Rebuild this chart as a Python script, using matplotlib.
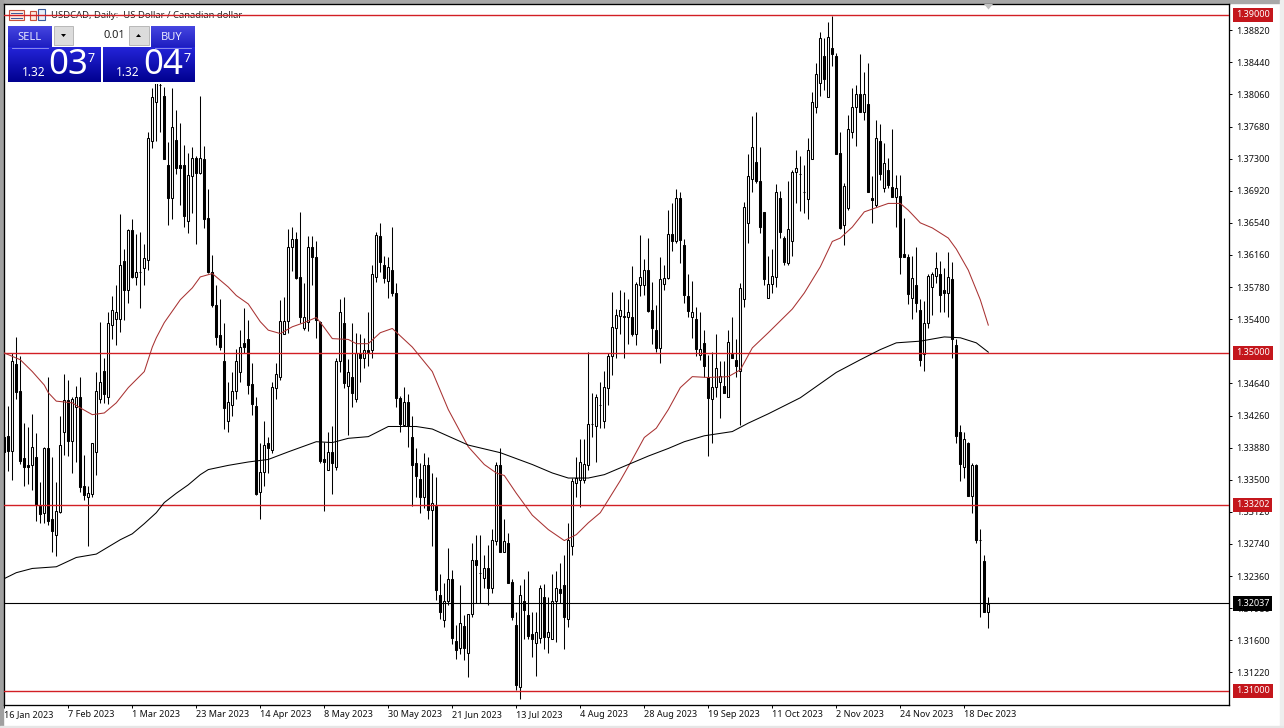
import matplotlib
matplotlib.use('Agg')
import matplotlib.pyplot as plt
from matplotlib.patches import Rectangle, Polygon
import numpy as np

plt.rcParams['font.family'] = ['Noto Sans', 'DejaVu Sans']

# Daily candles in 1/10000 of a price
opens = np.array([
    13401, 13402, 13384, 13487, 13455, 13376, 13368, 13367, 13377, 13319, 13311, 13387, 13304, 13285, 13312, 13407,
    13444, 13396, 13436, 13448, 13343, 13330, 13333, 13383, 13446, 13479, 13448, 13533, 13540, 13540, 13609, 13574,
    13646, 13590, 13596, 13600, 13610, 13751, 13797, 13817, 13804, 13723, 13684, 13752, 13722, 13722, 13656, 13710,
    13731, 13713, 13729, 13660, 13596, 13557, 13521, 13490, 13420, 13438, 13455, 13477, 13512, 13516, 13463, 13437,
    13335, 13359, 13393, 13385, 13459, 13471, 13523, 13538, 13625, 13635, 13590, 13529, 13537, 13625, 13614, 13537,
    13375, 13361, 13383, 13365, 13491, 13535, 13461, 13471, 13446, 13500, 13494, 13504, 13503, 13590, 13638, 13604,
    13585, 13598, 13571, 13447, 13415, 13442, 13401, 13370, 13351, 13329, 13367, 13314, 13319, 13213, 13184, 13207,
    13233, 13159, 13151, 13177, 13145, 13191, 13255, 13240, 13234, 13246, 13222, 13278, 13367, 13265, 13275, 13229,
    13178, 13105, 13206, 13190, 13167, 13157, 13163, 13211, 13164, 13162, 13206, 13221, 13226, 13185, 13272, 13346,
    13350, 13350, 13367, 13416, 13414, 13438, 13420, 13458, 13496, 13530, 13544, 13542, 13542, 13542, 13523, 13581,
    13580, 13598, 13551, 13527, 13506, 13582, 13589, 13641, 13633, 13684, 13628, 13568, 13543, 13540, 13498, 13512,
    13471, 13446, 13460, 13466, 13461, 13448, 13499, 13492, 13479, 13564, 13654, 13706, 13726, 13703, 13667, 13565,
    13582, 13590, 13684, 13636, 13606, 13632, 13714, 13712, 13691, 13682, 13730, 13791, 13820, 13852, 13803, 13861,
    13852, 13737, 13651, 13671, 13761, 13791, 13807, 13785, 13795, 13684, 13675, 13751, 13695, 13717, 13697, 13685,
    13686, 13617, 13614, 13565, 13580, 13551, 13499, 13535, 13578, 13591, 13593, 13574, 13571, 13588, 13510, 13406,
    13365, 13394, 13331, 13368, 13279, 13254, 13194]) / 10000
highs = np.array([
    13407, 13437, 13500, 13519, 13496, 13417, 13412, 13428, 13405, 13347, 13389, 13471, 13377, 13347, 13425, 13475,
    13468, 13448, 13461, 13472, 13379, 13342, 13393, 13478, 13537, 13494, 13549, 13568, 13581, 13665, 13623, 13647,
    13659, 13641, 13643, 13629, 13761, 13814, 13833, 13823, 13815, 13750, 13814, 13788, 13772, 13746, 13737, 13744,
    13733, 13804, 13745, 13694, 13616, 13581, 13564, 13536, 13466, 13477, 13505, 13527, 13553, 13539, 13488, 13448,
    13394, 13419, 13400, 13466, 13488, 13563, 13566, 13647, 13649, 13643, 13667, 13583, 13638, 13638, 13632, 13538,
    13395, 13406, 13413, 13494, 13564, 13566, 13493, 13536, 13524, 13523, 13518, 13548, 13604, 13643, 13654, 13615,
    13613, 13649, 13583, 13449, 13460, 13451, 13425, 13388, 13370, 13382, 13377, 13358, 13353, 13239, 13228, 13269,
    13243, 13178, 13225, 13190, 13191, 13275, 13285, 13284, 13261, 13273, 13292, 13371, 13387, 13304, 13287, 13233,
    13194, 13226, 13232, 13242, 13193, 13194, 13226, 13227, 13211, 13238, 13242, 13252, 13261, 13299, 13352, 13377,
    13398, 13398, 13501, 13453, 13451, 13466, 13479, 13500, 13572, 13552, 13575, 13572, 13564, 13603, 13584, 13640,
    13611, 13636, 13584, 13557, 13613, 13604, 13669, 13677, 13694, 13690, 13635, 13593, 13585, 13555, 13549, 13527,
    13498, 13501, 13523, 13490, 13490, 13527, 13543, 13516, 13583, 13679, 13736, 13780, 13785, 13744, 13667, 13615,
    13623, 13700, 13692, 13639, 13703, 13716, 13740, 13733, 13722, 13755, 13809, 13843, 13880, 13873, 13892, 13899,
    13855, 13761, 13701, 13782, 13814, 13817, 13854, 13832, 13843, 13710, 13776, 13771, 13749, 13731, 13765, 13711,
    13711, 13660, 13617, 13615, 13626, 13564, 13562, 13594, 13596, 13619, 13609, 13601, 13619, 13608, 13516, 13415,
    13406, 13395, 13370, 13369, 13292, 13261, 13211]) / 10000
lows = np.array([
    13379, 13360, 13350, 13446, 13369, 13342, 13345, 13338, 13301, 13299, 13299, 13297, 13265, 13260, 13311, 13379,
    13378, 13358, 13371, 13336, 13326, 13272, 13330, 13356, 13441, 13441, 13440, 13517, 13510, 13525, 13539, 13559,
    13589, 13581, 13553, 13581, 13598, 13742, 13751, 13761, 13729, 13651, 13659, 13712, 13675, 13649, 13642, 13666,
    13629, 13712, 13648, 13595, 13555, 13510, 13504, 13410, 13406, 13426, 13445, 13466, 13500, 13451, 13427, 13332,
    13303, 13342, 13358, 13382, 13446, 13468, 13522, 13524, 13597, 13588, 13535, 13527, 13526, 13581, 13518, 13370,
    13313, 13361, 13333, 13361, 13478, 13459, 13403, 13436, 13442, 13466, 13482, 13484, 13494, 13584, 13596, 13583,
    13565, 13568, 13436, 13406, 13413, 13389, 13319, 13330, 13311, 13317, 13303, 13271, 13208, 13185, 13176, 13202,
    13155, 13138, 13144, 13137, 13116, 13187, 13204, 13204, 13222, 13202, 13216, 13273, 13264, 13264, 13228, 13184,
    13101, 13091, 13161, 13161, 13140, 13118, 13157, 13150, 13145, 13161, 13158, 13204, 13150, 13176, 13261, 13330,
    13318, 13346, 13362, 13401, 13371, 13411, 13411, 13438, 13474, 13494, 13523, 13494, 13511, 13520, 13509, 13568,
    13569, 13549, 13511, 13501, 13488, 13574, 13588, 13621, 13630, 13607, 13559, 13542, 13518, 13496, 13492, 13472,
    13378, 13394, 13448, 13423, 13453, 13448, 13494, 13471, 13415, 13555, 13630, 13690, 13701, 13642, 13581, 13565,
    13571, 13578, 13636, 13604, 13604, 13615, 13678, 13668, 13666, 13659, 13730, 13784, 13804, 13811, 13803, 13840,
    13736, 13647, 13628, 13669, 13754, 13745, 13785, 13776, 13691, 13654, 13673, 13705, 13690, 13695, 13685, 13649,
    13593, 13613, 13558, 13540, 13548, 13485, 13479, 13530, 13545, 13583, 13549, 13549, 13543, 13494, 13394, 13349,
    13352, 13331, 13311, 13275, 13188, 13193, 13175]) / 10000
closes = np.array([
    13383, 13384, 13490, 13454, 13372, 13365, 13365, 13389, 13320, 13310, 13387, 13301, 13289, 13313, 13391, 13444,
    13396, 13446, 13448, 13341, 13332, 13334, 13393, 13455, 13466, 13451, 13536, 13551, 13548, 13604, 13574, 13646,
    13590, 13596, 13596, 13612, 13754, 13803, 13821, 13817, 13729, 13684, 13767, 13719, 13719, 13662, 13711, 13731,
    13713, 13731, 13659, 13596, 13557, 13519, 13507, 13435, 13442, 13455, 13490, 13507, 13507, 13462, 13440, 13333,
    13359, 13391, 13388, 13460, 13475, 13538, 13538, 13626, 13635, 13589, 13543, 13543, 13625, 13613, 13539, 13372,
    13371, 13383, 13370, 13491, 13549, 13465, 13478, 13453, 13500, 13494, 13504, 13501, 13594, 13640, 13608, 13589,
    13602, 13571, 13447, 13416, 13442, 13413, 13367, 13355, 13329, 13367, 13314, 13323, 13220, 13194, 13207, 13233,
    13163, 13149, 13180, 13151, 13191, 13255, 13249, 13240, 13246, 13222, 13279, 13367, 13264, 13278, 13228, 13187,
    13107, 13214, 13196, 13165, 13162, 13170, 13222, 13164, 13170, 13206, 13222, 13216, 13188, 13279, 13349, 13352,
    13371, 13369, 13416, 13416, 13448, 13438, 13460, 13497, 13531, 13545, 13551, 13544, 13549, 13523, 13582, 13590,
    13598, 13550, 13530, 13506, 13587, 13589, 13641, 13633, 13684, 13634, 13569, 13550, 13548, 13505, 13505, 13484,
    13447, 13460, 13482, 13473, 13453, 13513, 13494, 13484, 13577, 13673, 13709, 13744, 13703, 13649, 13588, 13582,
    13591, 13690, 13643, 13608, 13647, 13714, 13719, 13712, 13690, 13740, 13797, 13830, 13873, 13824, 13874, 13854,
    13736, 13648, 13698, 13765, 13791, 13806, 13785, 13806, 13691, 13681, 13755, 13712, 13725, 13699, 13685, 13695,
    13614, 13614, 13570, 13589, 13559, 13492, 13536, 13591, 13594, 13600, 13569, 13571, 13590, 13517, 13402, 13369,
    13398, 13331, 13368, 13279, 13279, 13194, 13203]) / 10000

# Moving averages (bar number, price in 1/10000)
ma_fast_bars = [0, 4, 7, 10, 11, 13, 17, 19, 22, 25, 28, 31, 35, 37, 38, 40, 44, 47, 49, 52, 56, 58, 61, 64, 66, 69,
                72, 75, 78, 80, 82, 86, 88, 91, 94, 97, 102, 107, 111, 116, 120, 123, 125, 128, 132, 136, 140, 143,
                146, 149, 154, 157, 160, 163, 166, 169, 172, 176, 181, 184, 187, 191, 197, 200, 204, 207, 209, 212,
                215, 218, 221, 224, 226, 229, 232, 236, 238, 241, 244, 246]
ma_fast = [13500, 13492, 13478, 13462, 13453, 13443, 13441, 13435, 13427, 13429, 13441, 13459, 13478, 13507, 13518,
           13536, 13563, 13577, 13590, 13594, 13578, 13568, 13558, 13537, 13527, 13523, 13531, 13536, 13542, 13530,
           13517, 13516, 13511, 13511, 13524, 13529, 13507, 13478, 13433, 13389, 13368, 13358, 13355, 13334, 13308,
           13291, 13278, 13285, 13299, 13311, 13349, 13374, 13400, 13411, 13433, 13459, 13472, 13471, 13472, 13480,
           13506, 13524, 13552, 13571, 13602, 13632, 13636, 13649, 13667, 13672, 13677, 13677, 13669, 13654, 13648,
           13636, 13623, 13598, 13563, 13533]
ma_slow_bars = [0, 3, 7, 13, 18, 23, 29, 32, 35, 38, 40, 43, 46, 49, 51, 53, 56, 61, 66, 71, 78, 82, 86, 91, 96, 103,
                107, 116, 124, 132, 137, 141, 146, 150, 156, 161, 166, 170, 175, 182, 186, 191, 199, 208, 214, 219,
                223, 229, 235, 239, 243, 246]
ma_slow = [13233, 13240, 13245, 13247, 13258, 13262, 13279, 13286, 13298, 13311, 13323, 13334, 13344, 13356, 13362,
           13364, 13367, 13371, 13374, 13383, 13395, 13394, 13399, 13401, 13413, 13413, 13410, 13391, 13382, 13368,
           13358, 13352, 13352, 13356, 13368, 13378, 13387, 13395, 13402, 13407, 13417, 13428, 13447, 13477, 13492,
           13504, 13512, 13514, 13519, 13518, 13512, 13501]

level_lines = [1.39, 1.35, 1.33202, 1.31]
level_labels = ['1.39000', '1.35000', '1.33202', '1.31000']
last_price = 1.32037

price_ticks = [1.3882, 1.3844, 1.3806, 1.3768, 1.3730, 1.3692, 1.3654, 1.3616, 1.3578, 1.3540, 1.3464,
               1.3426, 1.3388, 1.3350, 1.3312, 1.3274, 1.3236, 1.3198, 1.3160, 1.3122]
date_bars = [0, 16, 32, 48, 64, 80, 96, 112, 128, 144, 160, 176, 192, 208, 224, 240]
date_labels = ['16 Jan 2023', '7 Feb 2023', '1 Mar 2023', '23 Mar 2023', '14 Apr 2023', '8 May 2023', '30 May 2023',
               '21 Jun 2023', '13 Jul 2023', '4 Aug 2023', '28 Aug 2023', '19 Sep 2023', '11 Oct 2023', '2 Nov 2023',
               '24 Nov 2023', '18 Dec 2023']

W, H = 1284, 728
fig = plt.figure(figsize=(W / 100, H / 100), dpi=100, facecolor='white')

# layer behind the chart: window frame, title, icons
back = fig.add_axes([0, 0, 1, 1], zorder=0)
back.set_xlim(0, W)
back.set_ylim(H, 0)
back.axis('off')
back.add_patch(Rectangle((0, 0), W, 3, color='#a8a8a8'))
back.add_patch(Rectangle((0, 0), 2.5, H, color='#a0a0a0'))
back.add_patch(Rectangle((1280, 0), 4, H, color='#eeeeee'))
back.add_patch(Rectangle((0, 726), W, 2, color='#e6e6e6'))
back.add_patch(Rectangle((9, 10), 15, 10, fc='#fbe9e0', ec='#c8503c', lw=0.8))
for yy in (12.5, 15, 17.5):
    back.plot([11, 22], [yy, yy], color='#3a5a9a', lw=0.7)
back.add_patch(Rectangle((30, 11), 6, 9, fc='#fbe9e0', ec='#c8503c', lw=0.8))
back.add_patch(Rectangle((38, 9), 7, 11, fc='#e8eef8', ec='#3a5a9a', lw=0.8))
back.text(51, 15.5, 'USDCAD, Daily:  US Dollar / Canadian dollar', fontsize=6.8, color='#222222',
          va='center', ha='left')

# chart axes, pixel box 4..1229 x 4..705
ax = fig.add_axes([4 / W, 1 - 705 / H, 1225 / W, 701 / H], zorder=1)
ax.patch.set_alpha(0)
ax.set_xlim(-0.075, 306.175)
ax.set_ylim(1.30834, 1.39130)

bars = np.arange(len(opens))
ax.vlines(bars, lows, highs, color='black', lw=0.75, zorder=2)
up = closes >= opens
ax.bar(bars[up], (closes - opens)[up], bottom=opens[up], width=0.5, fc='white', ec='black', lw=0.75, zorder=3)
ax.bar(bars[~up], (closes - opens)[~up], bottom=opens[~up], width=0.5, fc='black', ec='black', lw=0.75, zorder=3)

for p in level_lines:
    ax.axhline(p, color='#d21f24', lw=1.0, zorder=4)
ax.axhline(last_price, color='black', lw=0.8, zorder=4)
ax.plot(ma_fast_bars, np.array(ma_fast) / 10000, color='#a83232', lw=0.75, zorder=5)
ax.plot(ma_slow_bars, np.array(ma_slow) / 10000, color='black', lw=0.75, zorder=5)

ax.yaxis.tick_right()
ax.set_yticks(price_ticks)
ax.set_yticklabels(['%.5f' % p for p in price_ticks], fontsize=6.5, color='#111111')
ax.tick_params(axis='y', length=2.2, width=0.7, pad=3.0)
ax.set_xticks(date_bars)
ax.set_xticklabels(date_labels, fontsize=6.55, color='#111111', ha='left')
ax.tick_params(axis='x', length=2.2, width=0.7, pad=1.6)
for s in ax.spines.values():
    s.set_linewidth(0.95)

trans = ax.get_yaxis_transform()
for p, lab in zip(level_lines, level_labels):
    ax.text(1.0058, p, lab, transform=trans, fontsize=6.5, color='white', va='center', ha='left', clip_on=False,
            zorder=6, bbox=dict(boxstyle='square,pad=0.32', fc='#c4161c', ec='none'))
ax.text(1.0058, last_price, '%.5f' % last_price, transform=trans, fontsize=6.5, color='white', va='center',
        ha='left', clip_on=False, zorder=6, bbox=dict(boxstyle='square,pad=0.32', fc='black', ec='none'))

# layer above the chart: trading panel
top = fig.add_axes([0, 0, 1, 1], zorder=2)
top.patch.set_alpha(0)
top.axis('off')


def gradient(x0, x1, y0, y1, c0, c1):
    c = np.linspace(np.array(matplotlib.colors.to_rgb(c0)), np.array(matplotlib.colors.to_rgb(c1)), 32)
    top.imshow(c[:, None, :], extent=(x0, x1, y1, y0), aspect='auto', zorder=1, interpolation='bilinear')


top.add_patch(Rectangle((7, 25), 189, 59, fc='white', ec='none', zorder=0))
gradient(8, 52, 26, 48, '#4646e0', '#1c1cc0')
gradient(151, 195, 26, 48, '#4646e0', '#1c1cc0')
gradient(8, 101, 48, 82.5, '#2424d8', '#000090')
gradient(103, 195, 48, 82.5, '#2424d8', '#000090')
top.plot([12, 48], [47.5, 47.5], color='#9a9af0', lw=0.6, zorder=2)
top.plot([155, 191], [47.5, 47.5], color='#9a9af0', lw=0.6, zorder=2)
top.add_patch(Rectangle((54, 26), 19, 19, fc='#dcdcdc', ec='#b0b0b0', lw=0.6, zorder=2))
top.add_patch(Rectangle((129, 26), 20, 19, fc='#dcdcdc', ec='#b0b0b0', lw=0.6, zorder=2))
top.add_patch(Polygon([[61, 34], [66, 34], [63.5, 37]], fc='black', zorder=3))
top.add_patch(Polygon([[136, 37], [141, 37], [138.5, 34]], fc='black', zorder=3))
top.add_patch(Polygon([[984, 4], [993, 4], [988.5, 9.5]], fc='#c0c0c0', zorder=3))
top.text(29, 37, 'SELL', fontsize=8, color='#e8e8ff', ha='center', va='center', zorder=4)
top.text(172, 37, 'BUY', fontsize=8, color='#e8e8ff', ha='center', va='center', zorder=4)
top.text(125, 36, '0.01', fontsize=8, color='#222222', ha='right', va='center', zorder=4)
for x_small, x_big, x_sup, big in ((22, 48, 88, '03'), (116, 143, 183, '04')):
    top.text(x_small, 73, '1.32', fontsize=8.5, fontweight='bold', color='white', ha='left', va='center', zorder=4)
    top.text(x_big, 65.5, big, fontsize=25, color='white', ha='left', va='center', zorder=4)
    top.text(x_sup, 59, '7', fontsize=9, color='white', ha='left', va='center', zorder=4)
top.set_xlim(0, W)
top.set_ylim(H, 0)

fig.savefig('out.png', dpi=100)
